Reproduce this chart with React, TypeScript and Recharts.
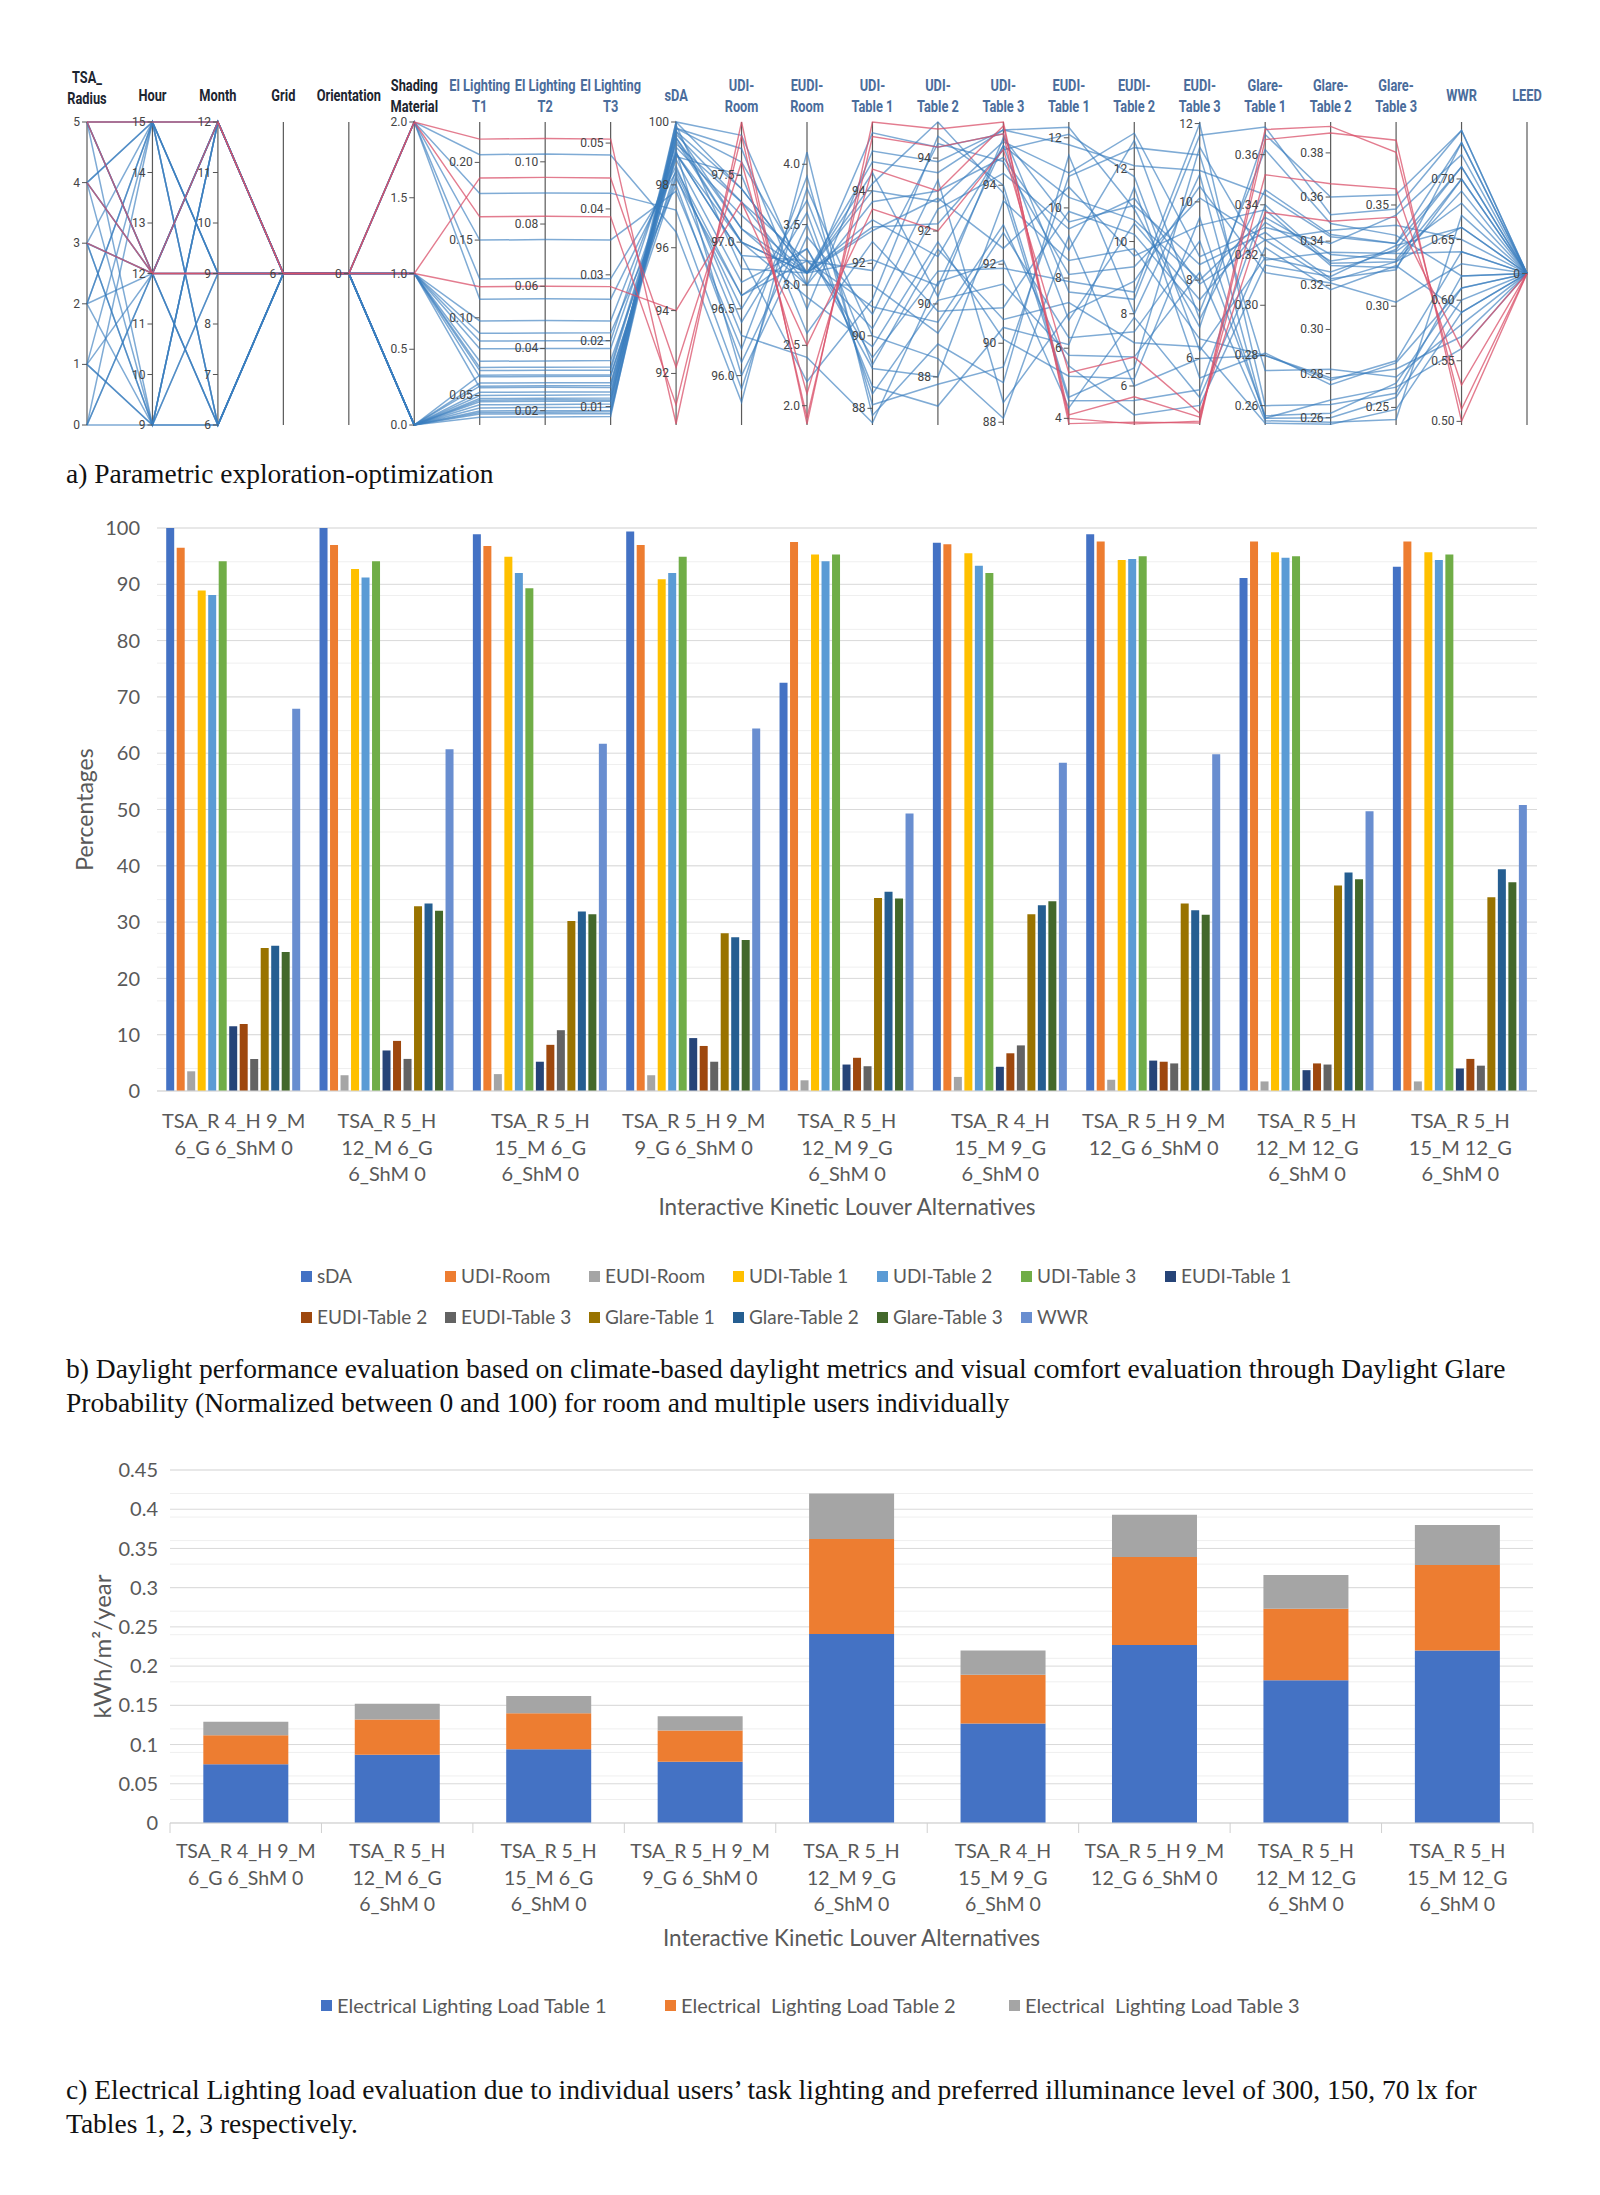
import React from 'react';
import {
  LineChart, Line, BarChart, Bar, XAxis, YAxis, CartesianGrid, ReferenceLine, ReferenceDot,
} from 'recharts';

const EXCEL_FONT = "Lato, 'Open Sans', sans-serif";
const NARROW_FONT = "'Liberation Sans Narrow', Roboto, sans-serif";
const SERIF_FONT = "'Liberation Serif', 'Times New Roman', serif";

// ---------- a) parallel coordinates ----------
const pcDims = [
  'tsa', 'hour', 'month', 'grid', 'orient', 'shm', 'el1', 'el2', 'el3', 'sda', 'udiRoom', 'eudiRoom',
  'udi1', 'udi2', 'udi3', 'eudi1', 'eudi2', 'eudi3', 'glare1', 'glare2', 'glare3', 'wwr', 'leed',
];
const pcHeaders = [
  ['TSA_', 'Radius'], ['Hour'], ['Month'], ['Grid'], ['Orientation'], ['Shading', 'Material'],
  ['El Lighting', 'T1'], ['El Lighting', 'T2'], ['El Lighting', 'T3'], ['sDA'], ['UDI-', 'Room'], ['EUDI-', 'Room'],
  ['UDI-', 'Table 1'], ['UDI-', 'Table 2'], ['UDI-', 'Table 3'], ['EUDI-', 'Table 1'], ['EUDI-', 'Table 2'], ['EUDI-', 'Table 3'],
  ['Glare-', 'Table 1'], ['Glare-', 'Table 2'], ['Glare-', 'Table 3'], ['WWR'], ['LEED'],
];
const pcDomains = [
  [0, 5], [9, 15], [6, 12], [5, 7], [-1, 1], [0, 2], [0.031, 0.226], [0.0154, 0.1128], [0.0072, 0.0532],
  [90.36, 100], [95.63, 97.9], [1.84, 4.35], [87.54, 95.9], [86.68, 94.99], [87.93, 95.6],
  [3.81, 12.45], [4.92, 13.31], [4.3, 12.04], [0.2523, 0.373], [0.2567, 0.394], [0.2413, 0.391], [0.497, 0.747], [-1, 1],
];
const pcTickLabels = [
  ['0', '1', '2', '3', '4', '5'],
  ['9', '10', '11', '12', '13', '14', '15'],
  ['6', '7', '8', '9', '10', '11', '12'],
  ['6'],
  ['0'],
  ['0.0', '0.5', '1.0', '1.5', '2.0'],
  ['0.05', '0.10', '0.15', '0.20'],
  ['0.02', '0.04', '0.06', '0.08', '0.10'],
  ['0.01', '0.02', '0.03', '0.04', '0.05'],
  ['92', '94', '96', '98', '100'],
  ['96.0', '96.5', '97.0', '97.5'],
  ['2.0', '2.5', '3.0', '3.5', '4.0'],
  ['88', '90', '92', '94'],
  ['88', '90', '92', '94'],
  ['88', '90', '92', '94'],
  ['4', '6', '8', '10', '12'],
  ['6', '8', '10', '12'],
  ['6', '8', '10', '12'],
  ['0.26', '0.28', '0.30', '0.32', '0.34', '0.36'],
  ['0.26', '0.28', '0.30', '0.32', '0.34', '0.36', '0.38'],
  ['0.25', '0.30', '0.35'],
  ['0.50', '0.55', '0.60', '0.65', '0.70'],
  ['0'],
];

const pcBlueLines = [
  [5, 15, 12, 6, 0, 0, 0.042, 0.021, 0.0099, 99.8, 97.6, 3.1, 94.8, 93.6, 95.4, 11.8, 12.1, 10.8, 0.344, 0.342, 0.331, 0.73, 0],
  [4, 12, 9, 6, 0, 0, 0.038, 0.019, 0.0089, 99.5, 97.0, 3.1, 92.1, 90.5, 95.0, 10.3, 10.6, 8.0, 0.335, 0.334, 0.323, 0.70, 0],
  [3, 9, 6, 6, 0, 1, 0.055, 0.0275, 0.0129, 99.0, 96.9, 3.2, 90.2, 92.6, 94.3, 9.4, 11.2, 7.9, 0.326, 0.322, 0.322, 0.66, 0],
  [5, 12, 12, 6, 0, 0, 0.048, 0.024, 0.0113, 100, 97.8, 3.0, 95.6, 94.3, 95.3, 7.6, 8.4, 11.7, 0.371, 0.352, 0.348, 0.74, 0],
  [2, 15, 6, 6, 0, 0, 0.063, 0.0315, 0.0148, 98.2, 96.6, 3.3, 89.1, 88.0, 93.6, 8.5, 9.8, 6.5, 0.280, 0.277, 0.273, 0.64, 0],
  [1, 9, 12, 6, 0, 1, 0.085, 0.0425, 0.02, 99.3, 97.3, 3.0, 91.4, 89.2, 92.8, 6.3, 7.5, 9.0, 0.256, 0.262, 0.262, 0.61, 0],
  [0, 15, 9, 6, 0, 2, 0.112, 0.056, 0.0263, 98.6, 96.4, 3.6, 88.4, 90.1, 91.5, 5.8, 6.8, 8.2, 0.254, 0.258, 0.244, 0.67, 0],
  [5, 12, 6, 6, 0, 0, 0.036, 0.018, 0.0085, 100, 97.4, 3.1, 93.0, 92.2, 94.9, 12.1, 11.8, 6.2, 0.319, 0.326, 0.328, 0.71, 0],
  [4, 15, 9, 6, 0, 0, 0.050, 0.025, 0.0118, 99.7, 97.1, 3.1, 94.2, 95.0, 93.8, 4.5, 5.6, 5.2, 0.340, 0.330, 0.322, 0.69, 0],
  [3, 12, 12, 6, 0, 1, 0.068, 0.034, 0.016, 99.1, 96.0, 3.4, 90.6, 93.4, 88.5, 7.0, 8.9, 10.4, 0.313, 0.321, 0.302, 0.63, 0],
  [2, 9, 9, 6, 0, 0, 0.058, 0.029, 0.0136, 98.9, 97.5, 2.6, 92.6, 89.8, 90.9, 9.9, 10.2, 7.2, 0.362, 0.348, 0.335, 0.62, 0],
  [1, 12, 6, 6, 0, 2, 0.150, 0.075, 0.0353, 97.8, 96.2, 3.9, 88.1, 87.8, 89.4, 10.9, 12.6, 11.2, 0.274, 0.282, 0.265, 0.58, 0],
  [0, 9, 12, 6, 0, 1, 0.098, 0.049, 0.023, 99.0, 97.0, 2.9, 89.7, 91.7, 90.1, 5.2, 6.2, 9.6, 0.255, 0.260, 0.255, 0.60, 0],
  [5, 9, 9, 6, 0, 0, 0.044, 0.022, 0.0104, 99.9, 96.8, 3.1, 94.0, 92.8, 95.1, 11.0, 13.0, 8.6, 0.331, 0.339, 0.345, 0.72, 0],
  [4, 12, 12, 6, 0, 0, 0.046, 0.023, 0.0108, 99.6, 97.3, 3.2, 91.8, 94.4, 94.6, 8.1, 9.3, 10.1, 0.326, 0.345, 0.340, 0.65, 0],
  [3, 15, 6, 6, 0, 1, 0.072, 0.036, 0.017, 98.3, 96.3, 2.4, 87.6, 90.6, 92.1, 4.3, 7.9, 5.0, 0.323, 0.318, 0.320, 0.59, 0],
  [2, 12, 12, 6, 0, 2, 0.180, 0.09, 0.0424, 97.2, 95.9, 3.8, 90.0, 88.5, 88.1, 9.2, 6.0, 6.0, 0.280, 0.278, 0.269, 0.57, 0],
  [1, 15, 9, 6, 0, 0, 0.052, 0.026, 0.0122, 99.4, 97.0, 3.1, 93.2, 91.3, 95.0, 6.8, 10.5, 7.5, 0.333, 0.331, 0.327, 0.68, 0],
  [0, 12, 6, 6, 0, 1, 0.080, 0.040, 0.0188, 98.8, 96.7, 3.3, 89.4, 90.9, 91.9, 7.9, 8.6, 12.0, 0.260, 0.266, 0.257, 0.62, 0],
  [5, 15, 9, 6, 0, 0, 0.040, 0.020, 0.0094, 99.8, 97.7, 2.8, 95.1, 93.9, 95.4, 12.3, 10.9, 6.8, 0.368, 0.360, 0.355, 0.74, 0],
  [4, 9, 12, 6, 0, 1, 0.062, 0.031, 0.0146, 98.5, 96.6, 3.2, 90.8, 89.5, 93.0, 5.5, 5.2, 4.8, 0.316, 0.324, 0.330, 0.66, 0],
  [3, 12, 9, 6, 0, 0, 0.056, 0.028, 0.0132, 99.2, 97.2, 3.1, 92.9, 92.9, 92.4, 10.6, 9.6, 9.4, 0.338, 0.329, 0.319, 0.70, 0],
  [2, 15, 12, 6, 0, 1, 0.090, 0.045, 0.0212, 98.0, 96.1, 3.5, 88.6, 87.2, 90.4, 6.1, 11.5, 5.5, 0.281, 0.275, 0.272, 0.61, 0],
  [1, 9, 6, 6, 0, 2, 0.205, 0.1025, 0.0482, 96.5, 95.8, 4.1, 87.8, 88.9, 89.0, 11.5, 8.0, 10.7, 0.255, 0.268, 0.260, 0.56, 0],
  [0, 12, 12, 6, 0, 0, 0.047, 0.0235, 0.011, 99.5, 97.1, 3.0, 93.7, 93.1, 94.7, 8.8, 12.8, 7.0, 0.346, 0.343, 0.331, 0.71, 0],
  [5, 12, 9, 6, 0, 1, 0.066, 0.033, 0.0155, 99.0, 96.9, 2.2, 91.0, 94.6, 94.0, 4.6, 6.5, 11.4, 0.318, 0.335, 0.326, 0.64, 0],
  [4, 15, 6, 6, 0, 0, 0.039, 0.0195, 0.0092, 99.7, 97.4, 3.1, 94.5, 90.2, 95.2, 9.6, 11.0, 8.4, 0.329, 0.323, 0.318, 0.73, 0],
  [3, 9, 12, 6, 0, 2, 0.125, 0.0625, 0.0294, 98.4, 96.5, 3.7, 89.2, 91.5, 90.6, 7.3, 7.2, 6.3, 0.253, 0.257, 0.249, 0.59, 0],
];
const pcRedLines = [
  [5, 12, 12, 6, 0, 2, 0.215, 0.1075, 0.0506, 90.4, 97.9, 1.85, 95.9, 94.8, 95.6, 3.85, 5.0, 4.35, 0.366, 0.389, 0.382, 0.50, 0],
  [4, 12, 9, 6, 0, 1, 0.190, 0.095, 0.0447, 92.2, 97.6, 2.1, 94.6, 93.1, 95.5, 4.1, 5.7, 4.5, 0.352, 0.366, 0.358, 0.53, 0],
  [5, 15, 12, 6, 0, 2, 0.165, 0.0825, 0.0388, 91.0, 97.8, 1.9, 95.5, 94.3, 95.3, 4.0, 4.95, 4.4, 0.370, 0.392, 0.376, 0.51, 0],
  [3, 12, 9, 6, 0, 1, 0.120, 0.06, 0.0282, 94.0, 97.3, 2.5, 93.5, 92.0, 94.9, 5.3, 6.8, 4.6, 0.337, 0.349, 0.344, 0.56, 0],
];

const norm = (v: number, d: number) => {
  const [lo, hi] = pcDomains[d];
  return Math.min(1, Math.max(0, (v - lo) / (hi - lo)));
};
const pcAll = [...pcBlueLines, ...pcRedLines];
const pcRows = pcDims.map((dim, d) => {
  const row: any = { dim };
  pcAll.forEach((ln, i) => { row['l' + i] = norm(ln[d], d); });
  return row;
});

const HeaderTick = (props: any) => {
  const { x, y, payload } = props;
  const i = pcDims.indexOf(payload.value);
  const lines = pcHeaders[i];
  const color = i < 6 ? '#1c2530' : '#4a6c9b';
  const lift = i === 0 ? 8 : 0;
  const common = {
    textAnchor: 'middle' as const, fill: color, fontSize: 16, fontWeight: 700, fontFamily: NARROW_FONT,
    transform: `translate(${x} 0) scale(0.8 1) translate(${-x} 0)`,
  };
  if (lines.length === 1) return <text x={x} y={y - 21} {...common}>{lines[0]}</text>;
  return (
    <text x={x} y={y - 31 - lift} {...common}>
      <tspan x={x}>{lines[0]}</tspan>
      <tspan x={x} dy={21}>{lines[1]}</tspan>
    </text>
  );
};

const axisTickShape = (label: string) => (p: any) => (
  <g>
    <line x1={p.cx - 5} x2={p.cx} y1={p.cy} y2={p.cy} stroke="#555" />
    <text x={p.cx - 7} y={p.cy} dy={4} textAnchor="end" fontSize={12} fill="#444" fontFamily={NARROW_FONT}>{label}</text>
  </g>
);

function ParallelPanel() {
  return (
    <LineChart width={1600} height={470} data={pcRows} margin={{ top: 62, right: 73, bottom: 45, left: 87 }}>
      <XAxis dataKey="dim" type="category" scale="point" padding={{ left: 0, right: 0 }} orientation="top"
        axisLine={false} tickLine={false} tickSize={0} tickMargin={0} height={60} interval={0} tick={<HeaderTick />} />
      <YAxis hide type="number" domain={[0, 1]} />
      {pcDims.map((dim) => (
        <ReferenceLine key={'ax' + dim} x={dim} stroke="#5a5a5a" strokeWidth={1.2} />
      ))}
      {pcBlueLines.map((_, i) => (
        <Line key={'b' + i} dataKey={'l' + i} type="linear" stroke="#3a7ebf" strokeOpacity={0.65} strokeWidth={1.5}
          dot={false} activeDot={false} isAnimationActive={false} />
      ))}
      {pcRedLines.map((_, j) => (
        <Line key={'r' + j} dataKey={'l' + (pcBlueLines.length + j)} type="linear" stroke="#d9506a" strokeOpacity={0.75}
          strokeWidth={1.4} dot={false} activeDot={false} isAnimationActive={false} />
      ))}
      {pcDims.flatMap((dim, d) =>
        pcTickLabels[d].map((lab) => (
          <ReferenceDot key={dim + lab} x={dim} y={norm(Number(lab), d)} r={0} shape={axisTickShape(lab)} />
        )),
      )}
    </LineChart>
  );
}

// ---------- b) daylight performance ----------
const altNames = [
  'TSA_R 4_H 9_M\n6_G 6_ShM 0',
  'TSA_R 5_H\n12_M 6_G\n6_ShM 0',
  'TSA_R 5_H\n15_M 6_G\n6_ShM 0',
  'TSA_R 5_H 9_M\n9_G 6_ShM 0',
  'TSA_R 5_H\n12_M 9_G\n6_ShM 0',
  'TSA_R 4_H\n15_M 9_G\n6_ShM 0',
  'TSA_R 5_H 9_M\n12_G 6_ShM 0',
  'TSA_R 5_H\n12_M 12_G\n6_ShM 0',
  'TSA_R 5_H\n15_M 12_G\n6_ShM 0',
];

const sDA = [100, 100, 98.9, 99.4, 72.5, 97.4, 98.9, 91.1, 93.1];
const udiRoom = [96.5, 97.0, 96.8, 97.0, 97.5, 97.1, 97.6, 97.6, 97.6];
const eudiRoom = [3.5, 2.8, 3.0, 2.8, 1.9, 2.5, 2.0, 1.7, 1.7];
const udiT1 = [88.9, 92.7, 94.9, 90.9, 95.3, 95.5, 94.3, 95.7, 95.7];
const udiT2 = [88.1, 91.2, 92.0, 92.0, 94.1, 93.3, 94.5, 94.7, 94.3];
const udiT3 = [94.1, 94.1, 89.3, 94.9, 95.3, 92.0, 95.0, 95.0, 95.3];
const eudiT1 = [11.5, 7.2, 5.2, 9.4, 4.7, 4.3, 5.4, 3.7, 4.0];
const eudiT2 = [11.9, 8.9, 8.2, 8.0, 5.9, 6.7, 5.2, 4.9, 5.7];
const eudiT3 = [5.7, 5.7, 10.8, 5.2, 4.4, 8.1, 4.9, 4.7, 4.5];
const glareT1 = [25.4, 32.8, 30.2, 28.0, 34.3, 31.4, 33.3, 36.5, 34.4];
const glareT2 = [25.8, 33.3, 31.9, 27.3, 35.4, 33.0, 32.1, 38.8, 39.4];
const glareT3 = [24.7, 32.0, 31.4, 26.8, 34.2, 33.7, 31.3, 37.6, 37.1];
const wwr = [67.9, 60.7, 61.7, 64.4, 49.3, 58.3, 59.8, 49.7, 50.8];

const perfSeries = [
  { key: 'sDA', name: 'sDA', color: '#4472C4', values: sDA },
  { key: 'udiRoom', name: 'UDI-Room', color: '#ED7D31', values: udiRoom },
  { key: 'eudiRoom', name: 'EUDI-Room', color: '#A5A5A5', values: eudiRoom },
  { key: 'udiT1', name: 'UDI-Table 1', color: '#FFC000', values: udiT1 },
  { key: 'udiT2', name: 'UDI-Table 2', color: '#5B9BD5', values: udiT2 },
  { key: 'udiT3', name: 'UDI-Table 3', color: '#70AD47', values: udiT3 },
  { key: 'eudiT1', name: 'EUDI-Table 1', color: '#264478', values: eudiT1 },
  { key: 'eudiT2', name: 'EUDI-Table 2', color: '#9E480E', values: eudiT2 },
  { key: 'eudiT3', name: 'EUDI-Table 3', color: '#636363', values: eudiT3 },
  { key: 'glareT1', name: 'Glare-Table 1', color: '#997300', values: glareT1 },
  { key: 'glareT2', name: 'Glare-Table 2', color: '#255E91', values: glareT2 },
  { key: 'glareT3', name: 'Glare-Table 3', color: '#43682B', values: glareT3 },
  { key: 'wwr', name: 'WWR', color: '#698ED0', values: wwr },
];
const perfRows = altNames.map((name, i) => {
  const row: any = { name };
  perfSeries.forEach((s) => { row[s.key] = s.values[i]; });
  return row;
});
const perfTicks = [0, 10, 20, 30, 40, 50, 60, 70, 80, 90, 100];

// ---------- c) electrical lighting load ----------
const elT1 = [0.075, 0.087, 0.094, 0.078, 0.241, 0.127, 0.227, 0.182, 0.220];
const elT2 = [0.037, 0.045, 0.046, 0.040, 0.121, 0.062, 0.112, 0.091, 0.109];
const elT3 = [0.017, 0.020, 0.022, 0.018, 0.058, 0.031, 0.054, 0.043, 0.051];
const loadSeries = [
  { key: 'el1', name: 'Electrical Lighting Load Table 1', color: '#4472C4', values: elT1 },
  { key: 'el2', name: 'Electrical  Lighting Load Table 2', color: '#ED7D31', values: elT2 },
  { key: 'el3', name: 'Electrical  Lighting Load Table 3', color: '#A5A5A5', values: elT3 },
];
const loadRows = altNames.map((name, i) => {
  const row: any = { name };
  loadSeries.forEach((s) => { row[s.key] = s.values[i]; });
  return row;
});
const loadTicks = [0, 0.05, 0.1, 0.15, 0.2, 0.25, 0.3, 0.35, 0.4, 0.45];

const range = (from: number, to: number, step: number) => {
  const out: number[] = [];
  for (let v = from; v <= to + 1e-9; v += step) out.push(Math.round(v * 1000) / 1000);
  return out;
};

// category tick, optionally with Excel-style boundary tick marks between categories
const CatTick = (dy0: number, size: number, edges: boolean) => (props: any) => {
  const { x, y, payload, index, visibleTicksCount } = props;
  const lines = String(payload.value).split('\n');
  const half = payload.offset || 0;
  return (
    <g>
      {edges && half > 0 && (
        <line x1={x - half} x2={x - half} y1={y} y2={y + 10} stroke="#d0d0d0" />
      )}
      {edges && half > 0 && index === visibleTicksCount - 1 && (
        <line x1={x + half} x2={x + half} y1={y} y2={y + 10} stroke="#d0d0d0" />
      )}
      <text x={x} y={y + dy0} textAnchor="middle" fontSize={size} fill="#595959" fontFamily={EXCEL_FONT}>
        {lines.map((ln, k) => (
          <tspan key={k} x={x} dy={k === 0 ? 0 : 26.5}>{ln}</tspan>
        ))}
      </text>
    </g>
  );
};

const VTitle = (text: string, dx: number, size: number) => (props: any) => {
  const { x, y, height } = props.viewBox;
  const cx = x + dx;
  const cy = y + height / 2;
  return (
    <text x={cx} y={cy} transform={`rotate(-90 ${cx} ${cy})`} textAnchor="middle" dominantBaseline="central"
      fontSize={size} fill="#595959" fontFamily={EXCEL_FONT}>{text}</text>
  );
};

const HTitle = (text: string, dy: number) => (props: any) => {
  const { x, y, width } = props.viewBox;
  return (
    <text x={x + width / 2} y={y + dy} textAnchor="middle" fontSize={22.5} fill="#595959" fontFamily={EXCEL_FONT}>{text}</text>
  );
};

function PerfPanel() {
  return (
    <BarChart width={1600} height={800} data={perfRows} margin={{ top: 48, right: 63, bottom: 49, left: 60 }}
      barCategoryGap="6%" barGap={2.5}>
      <CartesianGrid vertical={false} horizontalValues={range(0, 100, 2)} stroke="#efefef" />
      <CartesianGrid vertical={false} horizontalValues={perfTicks} stroke="#d9d9d9" />
      <YAxis type="number" domain={[0, 100]} ticks={perfTicks} width={97} axisLine={false} tickLine={false}
        tickMargin={11} tick={{ fontSize: 20, fill: '#595959', fontFamily: EXCEL_FONT }}
        label={{ content: VTitle('Percentages', 24, 23) }} />
      <XAxis dataKey="name" type="category" interval={0} height={140} tickLine={false} tickSize={0} tickMargin={0}
        axisLine={{ stroke: '#d9d9d9' }} tick={CatTick(37, 20, false)}
        label={{ content: HTitle('Interactive Kinetic Louver Alternatives', 124) }} />
      {perfSeries.map((s) => (
        <Bar key={s.key} dataKey={s.key} name={s.name} fill={s.color} isAnimationActive={false} />
      ))}
    </BarChart>
  );
}

function LoadPanel() {
  return (
    <BarChart width={1600} height={560} data={loadRows} margin={{ top: 40, right: 67, bottom: 37, left: 60 }}
      barCategoryGap="22%">
      <CartesianGrid vertical={false} horizontalValues={range(0, 0.45, 0.01)} stroke="#efefef" />
      <CartesianGrid vertical={false} horizontalValues={loadTicks} stroke="#d9d9d9" />
      <YAxis type="number" domain={[0, 0.45]} ticks={loadTicks} width={110} axisLine={false} tickLine={false}
        tickMargin={6} tick={{ fontSize: 20, fill: '#595959', fontFamily: EXCEL_FONT }}
        label={{ content: VTitle('kWh/m\u00B2/year', 41, 24) }} />
      <XAxis dataKey="name" type="category" interval={0} height={130} tickLine={false} tickSize={0}
        tickMargin={0} axisLine={{ stroke: '#d9d9d9' }} tick={CatTick(35, 19.5, true)}
        label={{ content: HTitle('Interactive Kinetic Louver Alternatives', 123) }} />
      {loadSeries.map((s) => (
        <Bar key={s.key} dataKey={s.key} name={s.name} stackId="load" fill={s.color} isAnimationActive={false} />
      ))}
    </BarChart>
  );
}

const legendText = (size: number): React.CSSProperties => ({
  fontFamily: EXCEL_FONT, fontSize: size, lineHeight: '24px', color: '#595959', display: 'flex', alignItems: 'center',
  whiteSpace: 'pre',
});
const swatch = (color: string): React.CSSProperties => ({
  width: 11, height: 11, background: color, marginRight: 5, flex: 'none',
});

const caption: React.CSSProperties = {
  position: 'absolute', left: 66, fontFamily: SERIF_FONT, fontSize: 27.5, lineHeight: '33.5px', color: '#111',
  whiteSpace: 'nowrap',
};

export default function App() {
  return (
    <div style={{ position: 'absolute', left: 0, top: 0, width: 1600, height: 2195, background: '#fff', overflow: 'hidden' }}>
      <div style={{ position: 'absolute', left: 0, top: 0 }}>
        <ParallelPanel />
      </div>
      <div style={{ ...caption, top: 457 }}>a) Parametric exploration-optimization</div>

      <div style={{ position: 'absolute', left: 0, top: 480 }}>
        <PerfPanel />
      </div>
      <div style={{ position: 'absolute', left: 301, top: 1264, display: 'grid', gridTemplateColumns: 'repeat(7, 144px)', rowGap: 17 }}>
        {perfSeries.map((s) => (
          <div key={s.key} style={legendText(19)}>
            <span style={swatch(s.color)} />
            {s.name}
          </div>
        ))}
      </div>
      <div style={{ ...caption, top: 1352 }}>
        b) Daylight performance evaluation based on climate-based daylight metrics and visual comfort evaluation through Daylight Glare
        <br />
        Probability (Normalized between 0 and 100) for room and multiple users individually
      </div>

      <div style={{ position: 'absolute', left: 0, top: 1430 }}>
        <LoadPanel />
      </div>
      <div style={{ position: 'absolute', left: 321, top: 1993, display: 'grid', gridTemplateColumns: 'repeat(3, 344px)' }}>
        {loadSeries.map((s) => (
          <div key={s.key} style={legendText(20)}>
            <span style={swatch(s.color)} />
            {s.name}
          </div>
        ))}
      </div>
      <div style={{ ...caption, top: 2073 }}>
        c) Electrical Lighting load evaluation due to individual users’ task lighting and preferred illuminance level of 300, 150, 70 lx for
        <br />
        Tables 1, 2, 3 respectively.
      </div>
    </div>
  );
}
